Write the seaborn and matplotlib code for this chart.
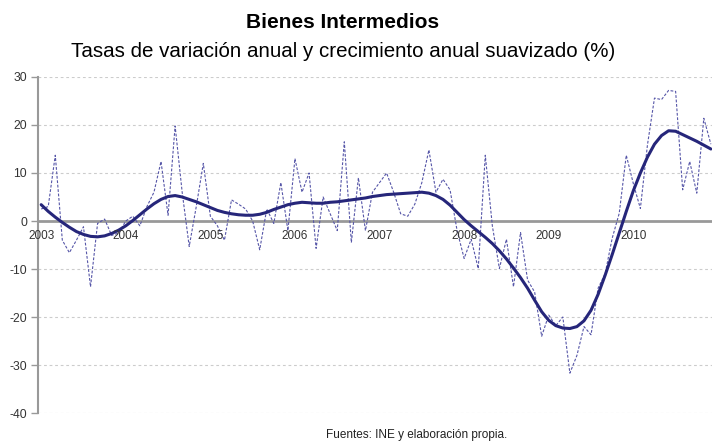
import numpy as np
import pandas as pd
import seaborn as sns
import matplotlib.pyplot as plt

# monthly data, Jan 2003 - Dec 2010
years = [2003, 2004, 2005, 2006, 2007, 2008, 2009, 2010]

tasa_anual = [
    2.5, 3.0, 13.7, -4.0, -6.6, -4.0, -1.2, -13.7, -0.5, 0.4, -3.0, -2.5,
    0.0, 1.0, -1.0, 3.0, 6.0, 12.4, 1.2, 19.8, 6.0, -5.3, 3.0, 12.0,
    1.0, -1.0, -4.0, 4.4, 3.5, 2.5, 0.0, -6.0, 2.5, -0.5, 8.0, -2.0,
    13.0, 6.0, 10.0, -5.7, 5.0, 1.5, -2.0, 16.5, -4.5, 9.0, -2.0, 6.0,
    8.0, 10.0, 6.0, 1.5, 1.0, 3.5, 8.0, 14.8, 6.0, 8.7, 6.5, -2.0,
    -7.8, -3.8, -9.9, 13.7, -1.0, -9.9, -3.8, -13.7, -2.4, -12.3, -14.8, -24.0,
    -19.6, -21.8, -20.0, -31.7, -28.0, -22.0, -23.7, -14.0, -11.0, -3.6, 1.6, 13.7,
    7.8, 2.6, 15.8, 25.6, 25.3, 27.2, 27.0, 6.5, 12.4, 5.8, 21.4, 16.0,
]

suavizado = [
    3.4, 2.0, 0.8, -0.3, -1.3, -2.2, -2.8, -3.2, -3.3, -3.1, -2.6, -1.9,
    -1.0, 0.1, 1.3, 2.5, 3.6, 4.5, 5.1, 5.3, 5.0, 4.5, 4.0, 3.4,
    2.8, 2.2, 1.8, 1.5, 1.3, 1.2, 1.2, 1.4, 1.8, 2.4, 2.9, 3.4,
    3.7, 3.9, 3.8, 3.7, 3.7, 3.9, 4.0, 4.2, 4.4, 4.6, 4.8, 5.1,
    5.3, 5.5, 5.6, 5.7, 5.8, 5.9, 6.0, 5.8, 5.3, 4.5, 3.3, 1.8,
    0.3, -1.0, -2.2, -3.4, -4.7, -6.2, -7.9, -9.8, -11.8, -14.0, -16.5, -18.9,
    -20.7, -21.8, -22.3, -22.4, -22.0, -20.8, -18.6, -15.3, -11.3, -7.0, -2.5, 2.0,
    6.3, 10.0, 13.3, 16.0, 17.8, 18.8, 18.7, 18.0, 17.3, 16.6, 15.8, 15.0,
]

df = pd.DataFrame({"mes": range(len(tasa_anual)),
                   "tasa": tasa_anual,
                   "suavizado": suavizado})

sns.set_theme(style="white")
plt.rcParams['font.family'] = ['Liberation Sans', 'DejaVu Sans']
plt.rcParams['axes.unicode_minus'] = False

fig = plt.figure(figsize=(7.13, 4.42), dpi=100)
ax = fig.add_axes([0.0533, 0.0656, 0.9447, 0.7602])

sns.lineplot(x="mes", y="tasa", data=df, ax=ax, color="#5656a8",
             linewidth=0.8, linestyle=(0, (2.5, 1.5)))
sns.lineplot(x="mes", y="suavizado", data=df, ax=ax, color="#26267a",
             linewidth=2.2)

ax.set_ylim(-40, 30)
ax.set_xlim(-0.45, len(tasa_anual) - 1 + 0.1)
ax.set_yticks(range(-40, 31, 10))
for v in range(-40, 31, 10):
    if v != 0:
        ax.axhline(v, color="#cccccc", linewidth=0.8, linestyle=(0, (2.5, 2.5)), zorder=0)
ax.axhline(0, color="#999999", linewidth=2, zorder=1)

ax.set_xticks([])
for i, yr in enumerate(years):
    ax.text(i * 12, -1.8, str(yr), ha="center", va="top",
            fontsize=8.5, color="#333333")

for side in ["top", "right", "bottom"]:
    ax.spines[side].set_visible(False)
ax.spines["left"].set_color("#999999")
ax.spines["left"].set_linewidth(1.5)
ax.tick_params(axis="y", left=True, length=5, width=1, color="#999999",
               labelsize=8.7, labelcolor="#333333", pad=3)
ax.set_xlabel("")
ax.set_ylabel("")

fig.text(0.481, 0.948, "Bienes Intermedios", ha="center", va="center",
         fontsize=15, fontweight="bold", color="black")
fig.text(0.481, 0.884, "Tasas de variación anual y crecimiento anual suavizado (%)",
         ha="center", va="center", fontsize=14.8, color="black")
fig.text(0.457, 0.016, "Fuentes: INE y elaboración propia.", ha="left",
         va="center", fontsize=8.5, color="#222222")

fig.savefig("out.png", dpi=100)
